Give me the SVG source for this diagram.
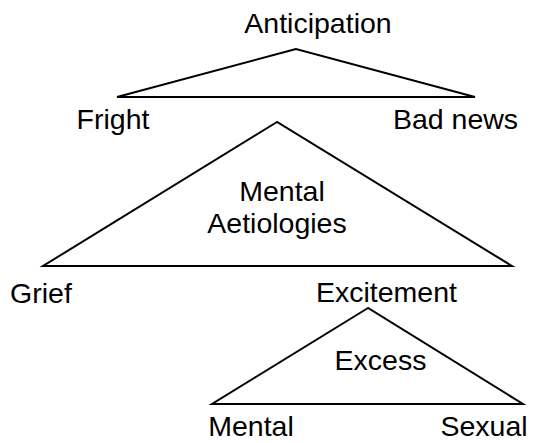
<svg xmlns="http://www.w3.org/2000/svg" width="535" height="443" viewBox="0 0 535 443">
<style>
text{font-family:"Liberation Sans",Arial,sans-serif;font-size:28.5px;fill:#000;text-anchor:middle}
.tri{fill:none;stroke:#000;stroke-width:2;stroke-linejoin:miter}
</style>
<rect width="535" height="443" fill="#fff"/>
<g id="connectors">
<polygon class="tri" points="296,49 117,97 475,97"/>
<polygon class="tri" points="277,122 43,266 512,266"/>
<polygon class="tri" points="368,308 212,404 523,404"/>
</g>
<g id="anticipation"><text x="318" y="32.5">Anticipation</text></g>
<g id="fright"><text x="113" y="128.5">Fright</text></g>
<g id="badnews"><text x="455.5" y="128.5">Bad news</text></g>
<g id="mental-aetiologies"><text x="282" y="201">Mental</text><text x="277" y="233">Aetiologies</text></g>
<g id="grief"><text x="41" y="302.5">Grief</text></g>
<g id="excitement"><text x="386.5" y="302">Excitement</text></g>
<g id="excess"><text x="380.5" y="369.5">Excess</text></g>
<g id="mental"><text x="251" y="435.5">Mental</text></g>
<g id="sexual"><text x="484" y="435.5">Sexual</text></g>
</svg>
